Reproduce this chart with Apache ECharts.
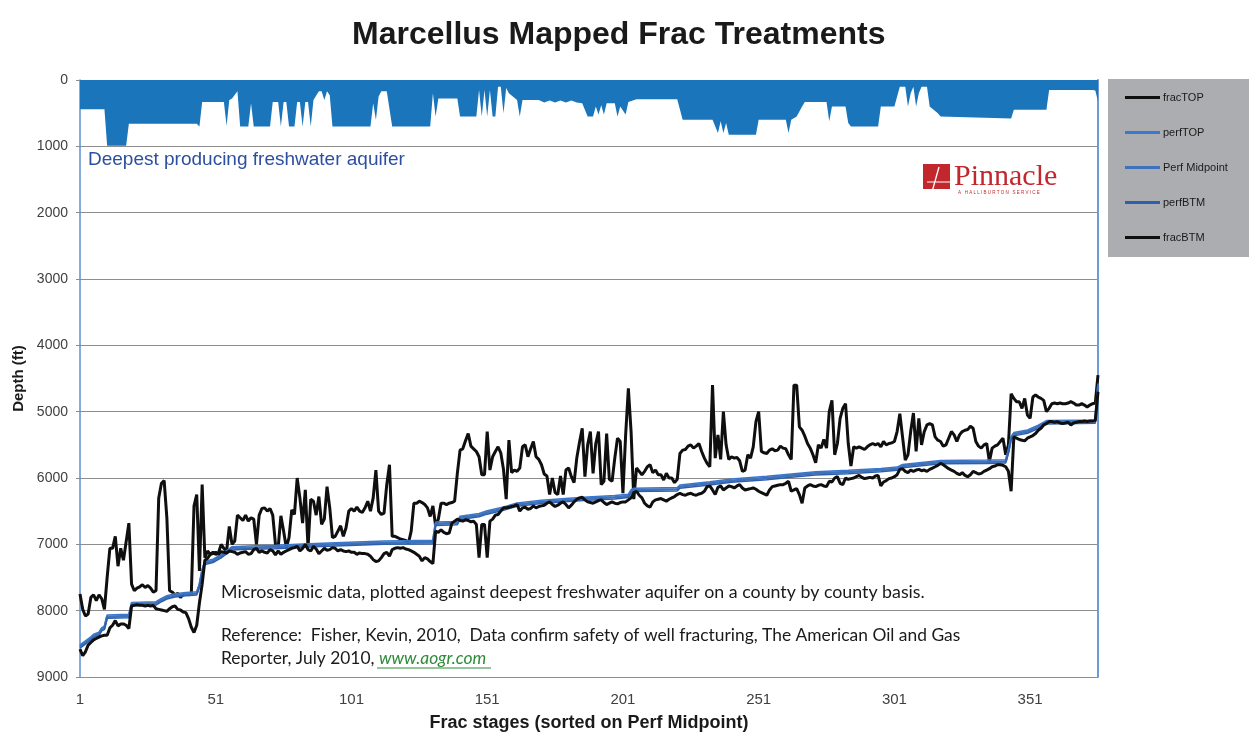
<!DOCTYPE html>
<html><head><meta charset="utf-8">
<script src="https://cdn.jsdelivr.net/npm/echarts@6/dist/echarts.min.js"></script>
<style>html,body{margin:0;padding:0;background:#fff}#c{width:1249px;height:734px}</style>
</head><body><div id="c"></div>
<script>
// Stage numbers 1..376 (category labels)
const stageCount = 376;
const stages = Array.from({length: stageCount}, (_, i) => String(i + 1));
const yTicks = [0,1000,2000,3000,4000,5000,6000,7000,8000,9000];

// [stage, depth ft]
const aquifer = [[1,440],[10,440],[11,990],[18,990],[19,660],[44,660],[45,700],[46,330],[54,330],[55,690],[56,300],[57,280],[59,170],[60,700],[63,700],[64,350],[65,700],[71,700],[72,330],[74,330],[75,700],[76,330],[77,330],[78,700],[80,700],[81,330],[82,330],[83,700],[84,330],[85,330],[86,700],[87,300],[89,170],[90,170],[91,300],[92,170],[93,230],[94,700],[108,700],[109,350],[110,600],[111,250],[112,170],[114,170],[116,700],[130,700],[131,200],[132,550],[133,280],[140,280],[141,550],[147,550],[148,150],[149,550],[150,150],[151,550],[152,150],[153,550],[154,550],[155,100],[156,100],[157,500],[158,120],[159,200],[162,300],[163,550],[164,300],[170,300],[172,340],[174,310],[176,340],[178,310],[180,340],[182,310],[184,340],[186,350],[188,550],[190,550],[191,400],[192,520],[193,380],[194,520],[195,350],[198,350],[199,550],[200,400],[202,520],[203,330],[206,290],[221,290],[223,600],[234,600],[236,800],[237,620],[238,800],[239,650],[240,825],[250,825],[251,600],[261,600],[262,800],[263,600],[265,550],[267,400],[268,330],[276,330],[277,620],[278,400],[283,400],[284,650],[285,700],[295,700],[296,400],[301,400],[302,250],[303,100],[305,100],[306,400],[307,200],[308,100],[309,400],[310,200],[311,100],[313,100],[314,400],[317,500],[318,550],[344,580],[345,450],[357,450],[358,150],[374,150],[375,160],[376,320]];

const fracTop = [[1,7750],[2,7980],[3,8080],[4,8050],[5,7800],[6,7760],[7,7850],[8,7760],[9,7820],[10,7980],[11,7500],[12,7060],[13,7060],[14,6880],[15,7330],[16,7060],[17,7240],[18,6960],[19,6680],[20,7600],[21,7700],[22,7660],[23,7640],[24,7610],[25,7650],[26,7620],[27,7660],[28,7720],[29,7700],[30,6300],[31,6080],[32,6040],[33,6600],[34,7700],[35,7720],[36,7760],[37,7740],[38,7800],[39,7760],[40,7740],[41,7760],[42,7750],[43,6420],[44,6250],[45,7400],[46,6100],[47,7200],[48,7100],[49,7150],[50,7120],[51,7150],[52,7130],[53,7000],[54,7060],[55,7100],[56,6730],[57,7000],[58,6950],[59,6560],[60,6600],[61,6640],[62,6560],[63,6650],[64,6600],[65,6620],[66,7000],[67,6560],[68,6460],[69,6450],[70,6500],[71,6460],[72,6560],[73,7000],[74,7050],[75,6570],[76,6800],[77,7050],[78,6900],[79,6480],[80,6550],[81,6000],[82,6300],[83,6680],[84,6180],[85,7050],[86,6320],[87,6350],[88,6560],[89,6280],[90,6700],[91,6620],[92,6130],[93,6450],[94,6900],[95,6880],[96,6800],[97,6720],[98,6880],[99,6750],[100,6500],[101,6460],[102,6500],[103,6440],[104,6500],[105,6520],[106,6450],[107,6350],[108,6500],[109,6300],[110,5880],[111,6500],[112,6550],[113,6530],[114,6100],[115,5800],[116,6880],[117,6880],[118,6900],[119,6920],[120,6930],[121,6940],[122,6980],[123,6800],[124,6380],[125,6380],[126,6350],[127,6370],[128,6400],[129,6450],[130,6580],[131,6420],[132,6720],[133,6620],[134,6380],[135,6380],[136,6400],[137,6380],[138,6370],[139,6350],[140,5930],[141,5580],[142,5560],[143,5440],[144,5330],[145,5520],[146,5560],[147,5600],[148,5680],[149,5950],[150,5950],[151,5300],[152,5880],[153,5680],[154,5600],[155,5530],[156,5620],[157,5870],[158,6320],[159,5430],[160,5920],[161,5880],[162,5900],[163,5850],[164,5530],[165,5500],[166,5680],[167,5560],[168,5450],[169,5680],[170,5720],[171,5800],[172,5940],[173,5970],[174,6250],[175,6000],[176,6220],[177,6250],[178,5970],[179,6250],[180,5880],[181,5850],[182,5980],[183,6070],[184,5700],[185,5460],[186,5250],[187,5980],[188,5500],[189,5300],[190,5930],[191,5480],[192,5300],[193,6100],[194,6050],[195,5330],[196,6020],[197,6050],[198,5700],[199,5400],[200,5450],[201,6230],[202,5350],[203,4650],[204,5300],[205,6320],[206,5850],[207,5900],[208,5950],[209,5900],[210,5830],[211,5800],[212,5920],[213,5880],[214,5950],[215,5950],[216,6030],[217,5930],[218,6000],[219,6000],[220,6070],[221,6020],[222,5630],[223,5580],[224,5570],[225,5520],[226,5500],[227,5550],[228,5520],[229,5480],[230,5600],[231,5700],[232,5780],[233,5830],[234,4600],[235,5700],[236,5350],[237,5720],[238,5000],[239,5500],[240,5720],[241,5680],[242,5700],[243,5690],[244,5740],[245,5900],[246,5880],[247,5650],[248,5700],[249,5530],[250,5150],[251,5000],[252,5600],[253,5620],[254,5630],[255,5580],[256,5560],[257,5590],[258,5580],[259,5520],[260,5550],[261,5560],[262,5650],[263,5720],[264,4600],[265,4600],[266,5230],[267,5280],[268,5370],[269,5480],[270,5550],[271,5650],[272,5770],[273,5500],[274,5550],[275,5420],[276,5550],[277,5000],[278,4830],[279,5650],[280,5480],[281,5100],[282,4950],[283,4880],[284,5480],[285,5820],[286,5530],[287,5550],[288,5530],[289,5550],[290,5570],[291,5530],[292,5500],[293,5480],[294,5500],[295,5480],[296,5530],[297,5450],[298,5500],[299,5480],[300,5470],[301,5450],[302,5300],[303,5030],[304,5380],[305,5730],[306,5650],[307,5300],[308,5020],[309,5600],[310,5100],[311,5500],[312,5300],[313,5200],[314,5180],[315,5200],[316,5380],[317,5430],[318,5450],[319,5520],[320,5500],[321,5400],[322,5300],[323,5350],[324,5450],[325,5350],[326,5300],[327,5280],[328,5270],[329,5220],[330,5250],[331,5450],[332,5520],[333,5550],[334,5500],[335,5480],[336,5750],[337,5550],[338,5520],[339,5500],[340,5450],[341,5400],[342,5650],[343,5500],[344,4730],[345,4800],[346,4850],[347,4850],[348,4950],[349,4800],[350,5050],[351,5100],[352,4780],[353,4750],[354,4780],[355,4800],[356,4830],[357,5000],[358,4950],[359,4880],[360,4870],[361,4880],[362,4870],[363,4880],[364,4880],[365,4870],[366,4850],[367,4870],[368,4900],[369,4900],[370,4880],[371,4900],[372,4930],[373,4900],[374,4880],[375,4870],[376,4450]];

const fracBtm = [[1,8580],[2,8680],[3,8620],[4,8520],[5,8480],[6,8440],[7,8420],[8,8400],[9,8380],[10,8370],[11,8370],[12,8260],[13,8220],[14,8150],[15,8230],[16,8200],[17,8200],[18,8220],[19,8270],[20,7930],[21,7920],[22,7910],[23,7920],[24,7920],[25,7930],[26,7920],[27,7930],[28,7920],[29,7970],[30,7980],[31,7990],[32,8000],[33,8010],[34,7970],[35,7940],[36,7930],[37,7980],[38,7990],[39,8020],[40,8030],[41,8120],[42,8250],[43,8330],[44,8220],[45,7880],[46,7600],[47,7240],[48,7210],[49,7150],[50,7140],[51,7120],[52,7150],[53,7110],[54,7120],[55,7130],[56,7100],[57,7110],[58,7120],[59,7150],[60,7130],[61,7120],[62,7110],[63,7150],[64,7140],[65,7080],[66,7060],[67,7120],[68,7100],[69,7120],[70,7130],[71,7080],[72,7100],[73,7160],[74,7100],[75,7150],[76,7120],[77,7100],[78,7080],[79,7060],[80,7050],[81,7030],[82,7100],[83,7060],[84,7000],[85,7080],[86,7100],[87,7030],[88,7070],[89,7140],[90,7100],[91,7060],[92,7090],[93,7080],[94,7050],[95,7060],[96,7100],[97,7080],[98,7100],[99,7110],[100,7100],[101,7120],[102,7120],[103,7150],[104,7130],[105,7140],[106,7140],[107,7150],[108,7180],[109,7230],[110,7260],[111,7250],[112,7200],[113,7140],[114,7120],[115,7180],[116,7080],[117,7060],[118,7050],[119,7060],[120,7050],[121,7070],[122,7080],[123,7100],[124,7120],[125,7150],[126,7180],[127,7250],[128,7200],[129,7220],[130,7260],[131,7290],[132,6800],[133,6820],[134,6780],[135,6820],[136,6840],[137,6830],[138,6680],[139,6650],[140,6620],[141,6640],[142,6650],[143,6630],[144,6640],[145,6660],[146,6650],[147,6700],[148,7200],[149,6700],[150,6700],[151,7200],[152,6650],[153,6620],[154,6560],[155,6550],[156,6500],[157,6450],[158,6450],[159,6440],[160,6430],[161,6420],[162,6400],[163,6500],[164,6450],[165,6440],[166,6470],[167,6460],[168,6420],[169,6450],[170,6430],[171,6420],[172,6410],[173,6380],[174,6360],[175,6400],[176,6430],[177,6410],[178,6380],[179,6360],[180,6400],[181,6450],[182,6410],[183,6360],[184,6320],[185,6300],[186,6290],[187,6330],[188,6360],[189,6370],[190,6380],[191,6360],[192,6340],[193,6330],[194,6370],[195,6400],[196,6380],[197,6360],[198,6380],[199,6390],[200,6370],[201,6360],[202,6360],[203,6330],[204,6300],[205,6220],[206,6200],[207,6260],[208,6300],[209,6380],[210,6420],[211,6440],[212,6360],[213,6330],[214,6320],[215,6310],[216,6330],[217,6350],[218,6320],[219,6300],[220,6280],[221,6250],[222,6230],[223,6250],[224,6260],[225,6240],[226,6230],[227,6250],[228,6260],[229,6240],[230,6230],[231,6200],[232,6130],[233,6120],[234,6180],[235,6250],[236,6140],[237,6120],[238,6180],[239,6150],[240,6120],[241,6130],[242,6150],[243,6120],[244,6100],[245,6150],[246,6180],[247,6170],[248,6160],[249,6150],[250,6170],[251,6200],[252,6220],[253,6240],[254,6260],[255,6180],[256,6130],[257,6120],[258,6110],[259,6100],[260,6100],[261,6080],[262,6050],[263,6200],[264,6180],[265,6160],[266,6250],[267,6380],[268,6150],[269,6120],[270,6100],[271,6120],[272,6130],[273,6110],[274,6100],[275,6120],[276,6130],[277,6050],[278,6060],[279,6000],[280,5980],[281,6080],[282,6100],[283,6000],[284,6020],[285,6010],[286,6000],[287,5980],[288,5960],[289,5990],[290,6010],[291,6000],[292,5990],[293,6000],[294,5970],[295,5960],[296,6120],[297,6060],[298,6040],[299,6010],[300,6000],[301,5980],[302,5950],[303,5870],[304,5860],[305,5900],[306,5920],[307,5880],[308,5900],[309,5880],[310,5870],[311,5890],[312,5880],[313,5900],[314,5870],[315,5850],[316,5830],[317,5810],[318,5780],[319,5800],[320,5830],[321,5860],[322,5880],[323,5900],[324,5930],[325,5950],[326,5920],[327,5960],[328,5980],[329,5950],[330,5900],[331,5920],[332,5940],[333,5930],[334,5900],[335,5880],[336,5860],[337,5830],[338,5820],[339,5800],[340,5800],[341,5810],[342,5830],[343,5900],[344,6200],[345,5380],[346,5400],[347,5420],[348,5430],[349,5440],[350,5400],[351,5380],[352,5360],[353,5330],[354,5280],[355,5250],[356,5200],[357,5180],[358,5150],[359,5150],[360,5160],[361,5150],[362,5170],[363,5180],[364,5170],[365,5160],[366,5200],[367,5170],[368,5160],[369,5150],[370,5150],[371,5140],[372,5150],[373,5140],[374,5140],[375,5130],[376,4700]];

const perfMid = [[1,8540],[3,8480],[5,8420],[6,8380],[8,8350],[9,8280],[10,8260],[11,8090],[19,8080],[20,7900],[29,7890],[31,7840],[33,7800],[36,7770],[40,7750],[44,7740],[45,7620],[46,7400],[47,7280],[50,7250],[53,7180],[55,7120],[57,7060],[63,7050],[73,7040],[83,7020],[95,7000],[113,6975],[131,6965],[132,6690],[140,6680],[141,6600],[148,6560],[151,6520],[157,6460],[162,6400],[171,6360],[181,6330],[188,6310],[198,6290],[203,6270],[204,6200],[205,6180],[221,6170],[222,6130],[233,6080],[241,6040],[254,6000],[264,5960],[272,5930],[284,5910],[296,5880],[302,5860],[304,5820],[318,5760],[335,5755],[342,5750],[343,5600],[344,5400],[345,5340],[350,5300],[354,5230],[357,5160],[375,5150],[376,4620]];
const perfTop = [[1,8515],[3,8455],[5,8395],[6,8355],[8,8325],[9,8255],[10,8235],[11,8065],[19,8055],[20,7875],[29,7865],[31,7815],[33,7775],[36,7745],[40,7725],[44,7715],[45,7595],[46,7375],[47,7255],[50,7225],[53,7155],[55,7095],[57,7035],[63,7025],[73,7015],[83,6995],[95,6975],[113,6950],[131,6940],[132,6665],[140,6655],[141,6575],[148,6535],[151,6495],[157,6435],[162,6375],[171,6335],[181,6305],[188,6285],[198,6265],[203,6245],[204,6175],[205,6155],[221,6145],[222,6105],[233,6055],[241,6015],[254,5975],[264,5935],[272,5905],[284,5885],[296,5855],[302,5835],[304,5795],[318,5735],[335,5730],[342,5725],[343,5575],[344,5375],[345,5315],[350,5275],[354,5205],[357,5135],[375,5125],[376,4575]];
const perfBtm = [[1,8565],[3,8505],[5,8445],[6,8405],[8,8375],[9,8305],[10,8285],[11,8115],[19,8105],[20,7925],[29,7915],[31,7865],[33,7825],[36,7795],[40,7775],[44,7765],[45,7645],[46,7425],[47,7305],[50,7275],[53,7205],[55,7145],[57,7085],[63,7075],[73,7065],[83,7045],[95,7025],[113,7000],[131,6990],[132,6715],[140,6705],[141,6625],[148,6585],[151,6545],[157,6485],[162,6425],[171,6385],[181,6355],[188,6335],[198,6315],[203,6295],[204,6225],[205,6205],[221,6195],[222,6155],[233,6105],[241,6065],[254,6025],[264,5985],[272,5955],[284,5935],[296,5905],[302,5885],[304,5845],[318,5785],[335,5780],[342,5775],[343,5625],[344,5425],[345,5365],[350,5325],[354,5255],[357,5185],[375,5175],[376,4665]];

const toCat = arr => arr.map(p => [String(p[0]), p[1]]);

const chart = echarts.init(document.getElementById('c'), null, {renderer: 'canvas'});
const AR = '"Liberation Sans", Arial, sans-serif';
const CAL = 'Lato, "Open Sans", sans-serif';

function lineSeries(name, data, color, width, z) {
  return {name, type: 'line', data: toCat(data), symbol: 'none', z,
    lineStyle: {color, width}, itemStyle: {color}, emphasis: {disabled: true}};
}

chart.setOption({
  animation: false,
  backgroundColor: '#ffffff',
  title: {
    text: 'Marcellus Mapped Frac Treatments', left: 347, top: 14,
    textStyle: {fontFamily: AR, fontWeight: 'bold', fontSize: 32, color: '#1a1a1a'}
  },
  grid: {left: 80, right: 151, top: 80, bottom: 57, containLabel: false, outerBoundsMode: 'none'},
  legend: {
    data: ['fracTOP', 'perfTOP', 'Perf Midpoint', 'perfBTM', 'fracBTM'],
    orient: 'vertical', left: 1125, top: 92, itemWidth: 35, itemHeight: 3, itemGap: 24,
    icon: 'rect', padding: 0, selectedMode: false, z: 10,
    textStyle: {fontFamily: AR, fontSize: 11, color: '#1a1a1a', padding: [0, 0, 0, -2]}
  },
  xAxis: {
    type: 'category', data: stages, boundaryGap: false,
    name: 'Frac stages (sorted on Perf Midpoint)', nameLocation: 'middle', nameGap: 37,
    nameTextStyle: {fontFamily: AR, fontWeight: 'bold', fontSize: 18, color: '#1a1a1a'},
    axisLine: {lineStyle: {color: '#8c8c8c', width: 1}},
    axisTick: {interval: 49, length: 5, lineStyle: {color: '#8c8c8c'}},
    axisLabel: {interval: 49, fontFamily: AR, fontSize: 15, color: '#404040', margin: 15},
    splitLine: {show: false}
  },
  yAxis: [{
    type: 'value', inverse: true, min: yTicks[0], max: yTicks[yTicks.length - 1], interval: 1000,
    name: 'Depth (ft)', nameLocation: 'middle', nameGap: 46, nameRotate: 90,
    nameTextStyle: {fontFamily: AR, fontWeight: 'bold', fontSize: 15, color: '#1a1a1a'},
    axisLine: {show: true, lineStyle: {color: '#5b8fd0', width: 1.5}},
    axisTick: {show: true, length: 4, lineStyle: {color: '#8c8c8c'}},
    axisLabel: {fontFamily: AR, fontSize: 14, color: '#404040', margin: 12, formatter: v => String(v)},
    splitLine: {show: true, lineStyle: {color: '#8e8e8e', width: 1}}
  }, {
    type: 'value', inverse: true, min: 0, max: 9000, position: 'right',
    axisLine: {show: true, lineStyle: {color: '#6d9bd6', width: 2}},
    axisTick: {show: false}, axisLabel: {show: false}, splitLine: {show: false}
  }],
  series: [
    {name: 'aquifer', type: 'line', data: toCat(aquifer), symbol: 'none', z: 1,
      lineStyle: {width: 0}, areaStyle: {color: '#1b75bb', opacity: 1, origin: 'start'},
      itemStyle: {color: '#1b75bb'}, emphasis: {disabled: true}},
    lineSeries('fracTOP', fracTop, '#0f0f0f', 3, 3),
    lineSeries('perfTOP', perfTop, '#3a78cf', 1.5, 3),
    lineSeries('Perf Midpoint', perfMid, '#3f72b8', 2.5, 3),
    lineSeries('perfBTM', perfBtm, '#2d5fae', 1.5, 3),
    lineSeries('fracBTM', fracBtm, '#0f0f0f', 3, 3)
  ],
  graphic: [
    {type: 'rect', z: 0, shape: {x: 1108, y: 79, width: 141, height: 178}, style: {fill: '#abadb0'}},
    {type: 'text', z: 5, x: 88, y: 160, style: {text: 'Deepest producing freshwater aquifer', fill: '#2c4f9f',
      font: '19px ' + AR, verticalAlign: 'middle'}},
    {type: 'rect', z: 5, shape: {x: 923, y: 164, width: 27, height: 25}, style: {fill: '#c1272d'}},
    {type: 'line', z: 6, shape: {x1: 939, y1: 167, x2: 932, y2: 192}, style: {stroke: '#ffffff', lineWidth: 1.3}},
    {type: 'line', z: 6, shape: {x1: 927, y1: 182, x2: 950, y2: 182}, style: {stroke: '#ffffff', lineWidth: 1}},
    {type: 'text', z: 5, x: 954, y: 177, style: {text: 'Pinnacle', fill: '#c1272d',
      font: '30px "Liberation Serif", "DejaVu Serif", serif', verticalAlign: 'middle'}},
    {type: 'text', z: 5, x: 958, y: 193, style: {text: 'A   H A L L I B U R T O N   S E R V I C E', fill: '#c1272d',
      font: '4.5px ' + AR, verticalAlign: 'middle'}},
    {type: 'text', z: 5, x: 221, y: 592, style: {text: 'Microseismic data, plotted against deepest freshwater aquifer on a county by county basis.',
      fill: '#1a1a1a', font: '17.8px ' + CAL, verticalAlign: 'middle'}},
    {type: 'text', z: 5, x: 221, y: 635, style: {text: 'Reference:  Fisher, Kevin, 2010,  Data confirm safety of well fracturing, The American Oil and Gas',
      fill: '#1a1a1a', font: '17.4px ' + CAL, verticalAlign: 'middle'}},
    {type: 'text', z: 5, x: 221, y: 658, style: {
      text: '{a|Reporter, July 2010, }{b|www.aogr.com}',
      verticalAlign: 'middle',
      rich: {
        a: {fill: '#1a1a1a', fontFamily: CAL, fontSize: 17.4},
        b: {fill: '#2e8b3a', fontFamily: CAL, fontSize: 17.4, fontStyle: 'italic'}
      }}},
    {type: 'line', z: 5, shape: {x1: 377, y1: 668, x2: 491, y2: 668}, style: {stroke: '#2e8b3a', lineWidth: 1}}
  ]
});
</script>
</body></html>
